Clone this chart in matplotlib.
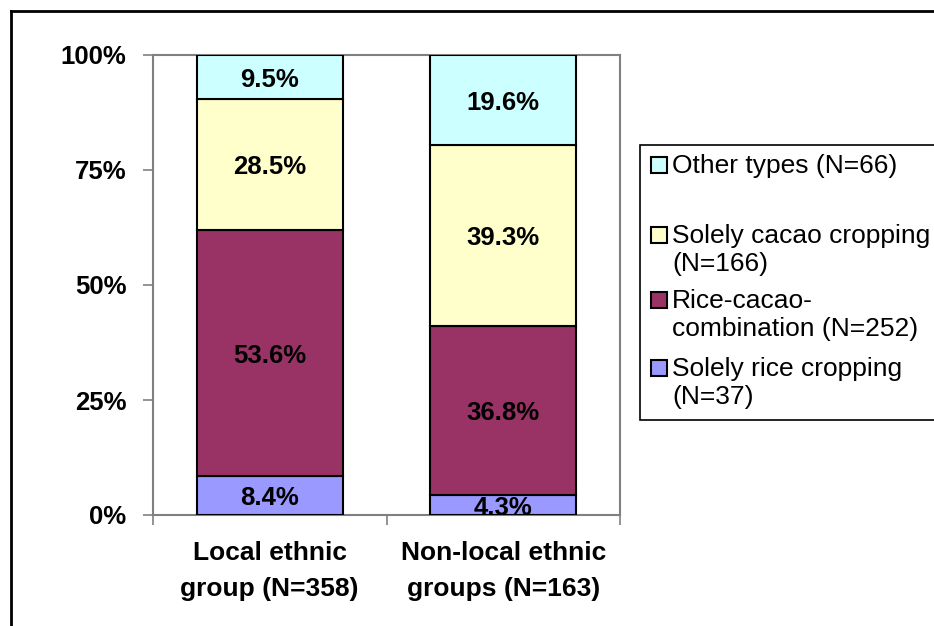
import matplotlib
matplotlib.use("Agg")
import matplotlib.pyplot as plt
from matplotlib.patches import Rectangle
from matplotlib.lines import Line2D

plt.rcParams['font.family'] = ['Liberation Sans', 'DejaVu Sans']

groups = ["Local ethnic\ngroup (N=358)", "Non-local ethnic\ngroups (N=163)"]
# shares per farm type, bottom to top
solely_rice = [8.4, 4.3]
rice_cacao = [53.6, 36.8]
solely_cacao = [28.5, 39.3]
other_types = [9.5, 19.6]

series = [solely_rice, rice_cacao, solely_cacao, other_types]
series_names = ["Solely rice cropping\n(N=37)", "Rice-cacao-\ncombination (N=252)",
                "Solely cacao cropping\n(N=166)", "Other types (N=66)"]
colors = ["#9999FF", "#993366", "#FFFFCC", "#CCFFFF"]
yticks = [0, 25, 50, 75, 100]

fig = plt.figure(figsize=(9.34, 6.26), dpi=100)
ax = fig.add_axes([153/934, 1 - 515/626, 467/934, 460/626])

x = range(len(groups))
bottom = [0, 0]
for vals, col in zip(series, colors):
    bars = ax.bar(x, vals, width=0.625, bottom=bottom, color=col,
                  edgecolor="black", linewidth=1.5, zorder=3)
    for b, v, b0 in zip(bars, vals, bottom):
        ax.text(b.get_x() + b.get_width()/2, b0 + v/2 - 0.6, f"{v:.1f}%",
                ha="center", va="center", fontsize=18.5, fontweight="bold", zorder=4)
    bottom = [b0 + v for b0, v in zip(bottom, vals)]

ax.set_xlim(-0.5, 1.5)
ax.set_ylim(0, 100)
ax.set_yticks(yticks)
ax.set_yticklabels([f"{t}%" for t in yticks], fontsize=18.5, fontweight="bold")
ax.set_xticks([-0.5, 0.5, 1.5])
ax.set_xticklabels([])
ax.set_xticks(list(x), minor=True)
ax.set_xticklabels(groups, minor=True, fontsize=19, fontweight="bold",
                   linespacing=1.6)
ax.tick_params(axis="x", which="minor", length=0, pad=19)
ax.tick_params(axis="x", which="major", length=7, width=1.2, color="#808080")
ax.tick_params(axis="y", length=7, width=1.2, color="#808080", pad=12)
for s in ax.spines.values():
    s.set_color("#808080")
    s.set_linewidth(1.5)

# outer chart frame (left and top edges visible)
fig.add_artist(Line2D([10.5/934, 10.5/934], [0, 1 - 11/626], color="black",
                      lw=2, transform=fig.transFigure))
fig.add_artist(Line2D([10.5/934, 1], [1 - 11/626, 1 - 11/626], color="black",
                      lw=2, transform=fig.transFigure))

# legend box
fig.add_artist(Rectangle((640/934, 1 - 420/626), 300/934, 275/626,
                         transform=fig.transFigure, facecolor="white",
                         edgecolor="black", lw=1.2))
entry_tops = [165, 235, 300, 368]
legend_order = [3, 2, 1, 0]
for ytop, i in zip(entry_tops, legend_order):
    fig.add_artist(Rectangle((651/934, 1 - (ytop + 8)/626), 16/934, 16/626,
                             transform=fig.transFigure, facecolor=colors[i],
                             edgecolor="black", lw=1.5))
    fig.text(672/934, 1 - (ytop - 11)/626, series_names[i], ha="left", va="top",
             fontsize=19, linespacing=1.22)

fig.savefig("out.png", dpi=100, facecolor="white")
